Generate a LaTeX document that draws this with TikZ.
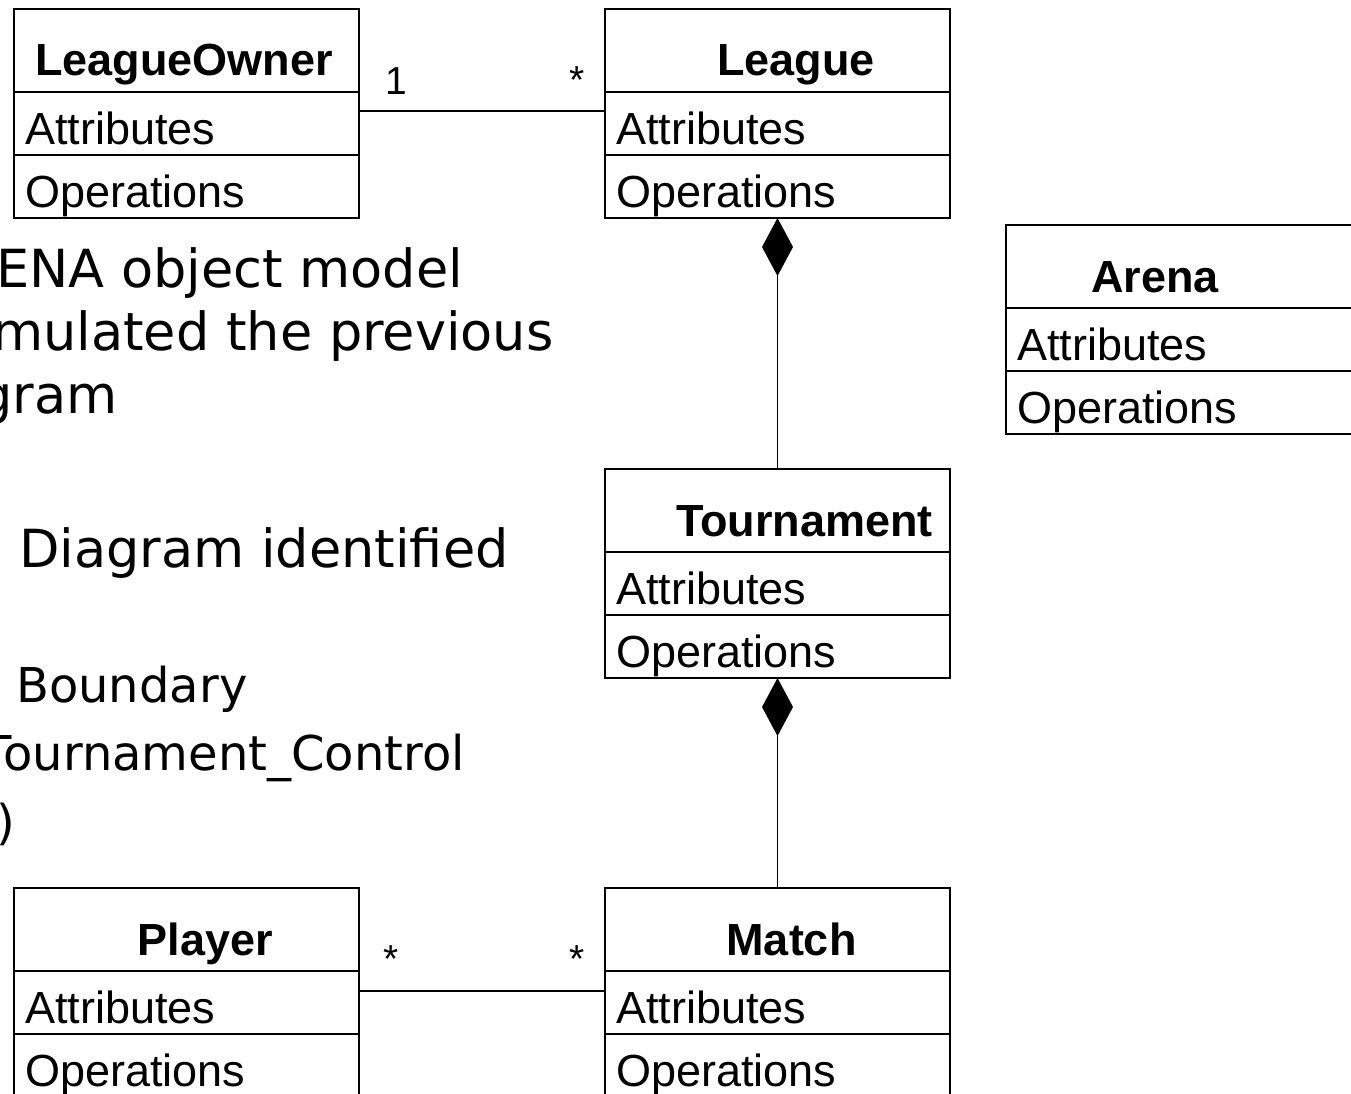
\documentclass[tikz,border=0pt]{standalone}
\usepackage{fontspec}
\setmainfont{Liberation Sans}
\newfontfamily\slidefont{DejaVu Sans}
\usetikzlibrary{positioning,arrows.meta}

\begin{document}
\begin{tikzpicture}[x=1pt, y=-1pt,
    classname/.style={draw, line width=1.5pt, outer sep=0pt, minimum width=345pt, minimum height=83pt, inner sep=0pt, text height=67pt, text depth=16pt, font=\fontsize{45}{54}\selectfont\bfseries},
    compart/.style={draw, line width=1.5pt, outer sep=0pt, minimum width=345pt, minimum height=63pt, inner xsep=11pt, inner ysep=0pt, text width=323pt, align=left, text height=52.5pt, text depth=10.5pt, font=\fontsize{45}{54}\selectfont},
    mult/.style={inner sep=0pt, anchor=base, font=\fontsize{39}{47}\selectfont},
    slide/.style={inner sep=0pt, anchor=base west, font=\slidefont\fontsize{52.5}{63}\selectfont},
    subslide/.style={inner sep=0pt, anchor=base west, font=\slidefont\fontsize{48}{58}\selectfont},
    comp/.style={-{Diamond[width=31pt, length=58pt]}, line width=1.5pt}]
    \useasboundingbox (0,0) rectangle (1351,1094);
    \clip (0,0) rectangle (1351,1094);

    % slide text behind the diagram
    \node[slide] (t1) at (-4,287) {ENA object model};
    \node[slide] (t2) at (-8,350) {mulated the previous};
    \node[slide] (t3) at (-21,413) {gram};
    \node[slide] (t4) at (19,567) {Diagram identified};
    \node[subslide] (t5) at (16,702) {Boundary};
    \node[subslide] (t6) at (-18,770) {Tournament\_Control};
    \node[subslide] (t7) at (-4,839) {)};

    % classes
    \node[classname, anchor=north west] (owner) at (14,9) {\hspace*{-5pt}LeagueOwner};
    \node[compart, below=0pt of owner] (owner-attr) {Attributes};
    \node[compart, below=0pt of owner-attr] (owner-ops) {Operations};

    \node[classname, anchor=north west] (league) at (605,9) {\hspace*{37pt}League};
    \node[compart, below=0pt of league] (league-attr) {Attributes};
    \node[compart, below=0pt of league-attr] (league-ops) {Operations};

    \node[classname, anchor=north west, minimum width=360pt] (arena) at (1006,225) {\hspace*{-62pt}Arena};
    \node[compart, below=0pt of arena, minimum width=360pt, text width=338pt] (arena-attr) {Attributes};
    \node[compart, below=0pt of arena-attr, minimum width=360pt, text width=338pt] (arena-ops) {Operations};

    \node[classname, anchor=north west] (tour) at (605,469) {\hspace*{54pt}Tournament};
    \node[compart, below=0pt of tour] (tour-attr) {Attributes};
    \node[compart, below=0pt of tour-attr] (tour-ops) {Operations};

    \node[classname, anchor=north west] (match) at (605,888) {\hspace*{28pt}Match};
    \node[compart, below=0pt of match] (match-attr) {Attributes};
    \node[compart, below=0pt of match-attr] (match-ops) {Operations};

    \node[classname, anchor=north west] (player) at (14,888) {\hspace*{38pt}Player};
    \node[compart, below=0pt of player] (player-attr) {Attributes};
    \node[compart, below=0pt of player-attr] (player-ops) {Operations};

    % associations
    \draw[line width=1.5pt] ([yshift=12.5pt]owner-attr.east) -- ([yshift=12.5pt]league-attr.west);
    \draw[line width=1.5pt] ([yshift=11.5pt]player-attr.east) -- ([yshift=11.5pt]match-attr.west);
    \node[mult] (m1) at (396,95) {1};
    \node[mult] (m2) at (577,94) {*};
    \node[mult] (m3) at (391,972) {*};
    \node[mult] (m4) at (577,972) {*};

    % compositions
    \draw[comp] (tour.north) -- (league-ops.south);
    \draw[comp] (match.north) -- (tour-ops.south);
\end{tikzpicture}
\end{document}
